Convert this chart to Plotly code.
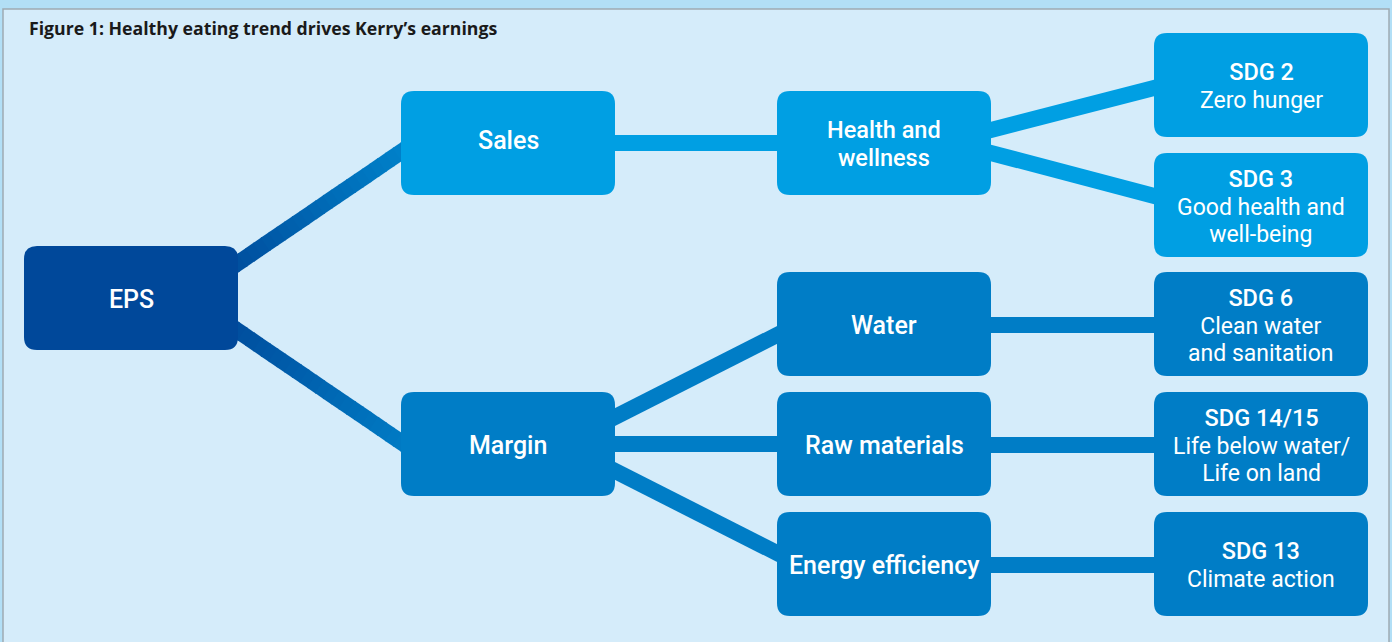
import plotly.graph_objects as go

# ---- data (labels of the tree) ----
title_text = "Figure 1: Healthy eating trend drives Kerry\u2019s earnings"
node_ids = ["EPS", "Sales", "Margin", "Health", "Water", "Raw", "Energy",
            "SDG2", "SDG3", "SDG6", "SDG14", "SDG13"]
node_heads = [["EPS"], ["Sales"], ["Margin"], ["Health and", "wellness"], ["Water"],
              ["Raw materials"], ["Energy efficiency"],
              ["SDG 2"], ["SDG 3"], ["SDG 6"], ["SDG 14/15"], ["SDG 13"]]
node_subs = [[], [], [], [], [], [], [],
             ["Zero hunger"], ["Good health and", "well-being"],
             ["Clean water", "and sanitation"], ["Life below water/", "Life on land"],
             ["Climate action"]]
edges = [("EPS", "Sales"), ("EPS", "Margin"), ("Sales", "Health"),
         ("Health", "SDG2"), ("Health", "SDG3"), ("Margin", "Water"),
         ("Margin", "Raw"), ("Margin", "Energy"), ("Water", "SDG6"),
         ("Raw", "SDG14"), ("Energy", "SDG13")]

# ---- layout (positions / styles, pixel units) ----
W, H = 1392, 642
BOX_W, BOX_H, R = 214, 104, 13
col_x = {"EPS": 24, "Sales": 401, "Margin": 401, "Health": 777, "Water": 777,
         "Raw": 777, "Energy": 777, "SDG2": 1154, "SDG3": 1154, "SDG6": 1154,
         "SDG14": 1154, "SDG13": 1154}
top_y = {"EPS": 246, "Sales": 91, "Margin": 392, "Health": 91, "Water": 272,
         "Raw": 392, "Energy": 512, "SDG2": 33, "SDG3": 153, "SDG6": 272,
         "SDG14": 392, "SDG13": 512}
label_dy = {"Sales": -4}
anchor_y = {("EPS", "Sales"): (263, 152), ("EPS", "Margin"): (331, 442),
            ("Sales", "Health"): (143, 143), ("Health", "SDG2"): (130, 88),
            ("Health", "SDG3"): (153, 196), ("Margin", "Water"): (417, 335),
            ("Margin", "Raw"): (444, 444), ("Margin", "Energy"): (471, 553),
            ("Water", "SDG6"): (325, 325), ("Raw", "SDG14"): (445, 445),
            ("Energy", "SDG13"): (565, 565)}
DARK, MID, LIGHT = "#00489A", "#007DC6", "#009FE3"
fill = {"EPS": DARK, "Sales": LIGHT, "Health": LIGHT, "SDG2": LIGHT, "SDG3": LIGHT}
LINE_W = 16
BASE_SIZE = 21.2  # sets line spacing (1.3 em ~ 27.5 px)
HEAD_SIZE_MULTI, HEAD_SIZE_SINGLE, SUB_SIZE = 23.5, 25, 23
FONT = "Roboto"


def rounded(x0, y0, x1, y1, r):
    return (f"M {x0+r},{y0} L {x1-r},{y0} Q {x1},{y0} {x1},{y0+r} "
            f"L {x1},{y1-r} Q {x1},{y1} {x1-r},{y1} L {x0+r},{y1} "
            f"Q {x0},{y1} {x0},{y1-r} L {x0},{y0+r} Q {x0},{y0} {x0+r},{y0} Z")


def hex2rgb(h):
    h = h.lstrip("#")
    return tuple(int(h[i:i+2], 16) for i in (0, 2, 4))


def mix(c1, c2, t):
    a, b = hex2rgb(c1), hex2rgb(c2)
    return "rgb(%d,%d,%d)" % tuple(round(a[i] + (b[i] - a[i]) * t) for i in range(3))


shapes = []
# background panel
shapes.append(dict(type="rect", x0=3, y0=9, x1=1389, y1=H + 20,
                   fillcolor="#D5ECFA", line=dict(color="#9EAAB2", width=1.5),
                   layer="below"))

# connectors
for (s, t) in edges:
    xs = col_x[s] + BOX_W
    xt = col_x[t]
    ys, yt = anchor_y[(s, t)]
    dx, dy = xt - xs, yt - ys
    L = (dx * dx + dy * dy) ** 0.5
    ux, uy = dx / L, dy / L
    ext = 14
    x0, y0 = xs - ux * ext, ys - uy * ext
    x1, y1 = xt + ux * ext, yt + uy * ext
    if s == "EPS":
        c_end = "#0084CC" if t == "Sales" else MID
        n = 24
        for i in range(n):
            a0, a1 = i / n, min(1.0, (i + 1.15) / n)
            shapes.append(dict(type="line",
                               x0=x0 + (x1 - x0) * a0, y0=y0 + (y1 - y0) * a0,
                               x1=x0 + (x1 - x0) * a1, y1=y0 + (y1 - y0) * a1,
                               line=dict(color=mix("#004C9C", c_end, (i + 0.5) / n),
                                         width=LINE_W), layer="above"))
    else:
        col = LIGHT if s in ("Sales", "Health") else MID
        shapes.append(dict(type="line", x0=x0, y0=y0, x1=x1, y1=y1,
                           line=dict(color=col, width=LINE_W), layer="above"))

# boxes and labels
annotations = []
for nid, heads, subs in zip(node_ids, node_heads, node_subs):
    x0, y0 = col_x[nid], top_y[nid]
    x1, y1 = x0 + BOX_W, y0 + BOX_H
    shapes.append(dict(type="path", path=rounded(x0, y0, x1, y1, R),
                       fillcolor=fill.get(nid, MID), line=dict(width=0),
                       layer="above"))
    cx, cy = (x0 + x1) / 2, (y0 + y1) / 2
    single = (len(heads) + len(subs)) == 1
    hs = HEAD_SIZE_SINGLE if single else HEAD_SIZE_MULTI
    parts = [f"<span style='font-size:{hs}px;font-weight:500'>{h}</span>"
             for h in heads]
    parts += [f"<span style='font-size:{SUB_SIZE}px'>{s}</span>" for s in subs]
    annotations.append(dict(x=cx, y=cy + 1 + label_dy.get(nid, 0), xref="x", yref="y",
                            text="<br>".join(parts),
                            showarrow=False, xanchor="center", yanchor="middle",
                            align="center",
                            font=dict(family=FONT, size=BASE_SIZE, color="white")))

annotations.append(dict(x=27, y=28, xref="x", yref="y", text=title_text,
                        showarrow=False, xanchor="left", yanchor="middle",
                        font=dict(family="Open Sans", size=17.7, color="#1A1A1A",
                                  weight="bold")))

fig = go.Figure()
fig.add_trace(go.Scatter(x=[0, W], y=[0, H], mode="markers",
                         marker=dict(opacity=0), hoverinfo="skip",
                         showlegend=False))
fig.update_layout(
    width=W, height=H, autosize=False,
    margin=dict(l=0, r=0, t=0, b=0, pad=0),
    paper_bgcolor="#B2DFF6", plot_bgcolor="#B2DFF6",
    xaxis=dict(range=[0, W], visible=False, fixedrange=True),
    yaxis=dict(range=[H, 0], visible=False, fixedrange=True),
    shapes=shapes, annotations=annotations, showlegend=False,
)
fig.write_html("out.html", config={"displayModeBar": False},
               post_script="document.body.style.margin='0';"
                           "document.body.style.overflow='hidden';")
